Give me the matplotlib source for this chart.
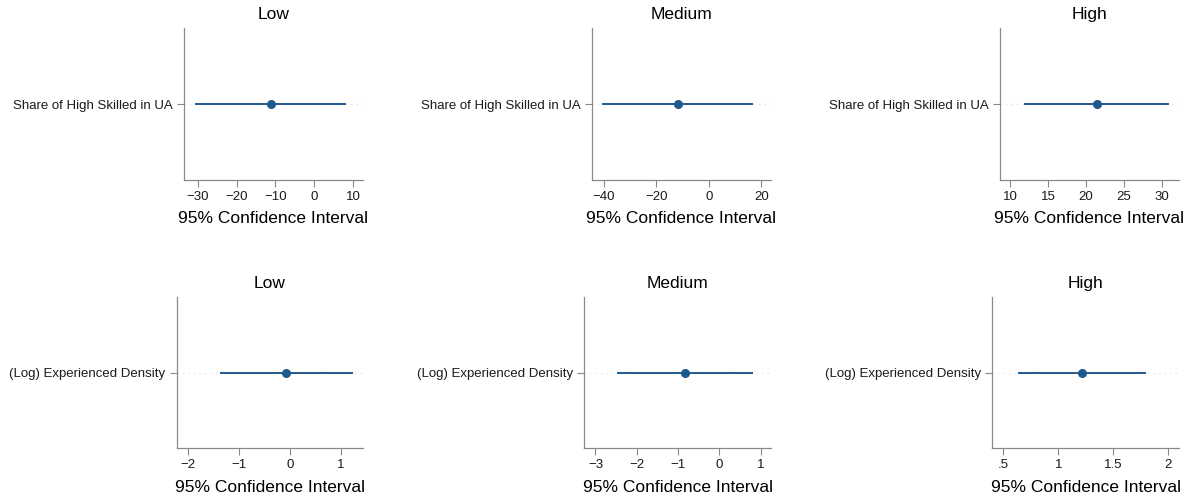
import matplotlib
matplotlib.use("Agg")
import matplotlib.pyplot as plt

plt.rcParams['font.family'] = ['Liberation Sans', 'DejaVu Sans']

# ---- data ----
titles = ["Low", "Medium", "High"]
variables = ["Share of High Skilled in UA", "(Log) Experienced Density"]

# row 0: Share of High Skilled in UA
share_est = [-11.2, -11.9, 21.45]
share_lo = [-30.6, -40.5, 11.9]
share_hi = [8.1, 16.7, 31.0]
# row 1: (Log) Experienced Density
dens_est = [-0.08, -0.83, 1.218]
dens_lo = [-1.37, -2.48, 0.636]
dens_hi = [1.23, 0.82, 1.796]

share_ticks = [[-30, -20, -10, 0, 10], [-40, -20, 0, 20], [10, 15, 20, 25, 30]]
share_ticklabels = [["\u221230", "\u221220", "\u221210", "0", "10"],
                    ["\u221240", "\u221220", "0", "20"],
                    ["10", "15", "20", "25", "30"]]
dens_ticks = [[-2, -1, 0, 1], [-3, -2, -1, 0, 1], [0.5, 1, 1.5, 2]]
dens_ticklabels = [["\u22122", "\u22121", "0", "1"],
                   ["\u22123", "\u22122", "\u22121", "0", "1"],
                   [".5", "1", "1.5", "2"]]

share_xlim = [(-33.5, 12.5), (-44.6, 23.7), (8.68, 32.3)]
dens_xlim = [(-2.215, 1.44), (-3.27, 1.25), (0.397, 2.1)]

# ---- layout (pixels) ----
W, H = 1188, 499
fig = plt.figure(figsize=(W / 100, H / 100), dpi=100)

rows = [
    dict(top=28, bottom=180, xs=[(184, 363), (591.7, 771), (1000, 1179)],
         est=share_est, lo=share_lo, hi=share_hi, ticks=share_ticks,
         labels=share_ticklabels, xlim=share_xlim, var=variables[0]),
    dict(top=296.7, bottom=448.3, xs=[(176.7, 363.3), (584.3, 771), (992, 1179.3)],
         est=dens_est, lo=dens_lo, hi=dens_hi, ticks=dens_ticks,
         labels=dens_ticklabels, xlim=dens_xlim, var=variables[1]),
]

color = "#1f5a8c"
spine_col = "#8a8a8a"

for r in rows:
    for j in range(3):
        x0, x1 = r["xs"][j]
        ax = fig.add_axes([x0 / W, 1 - r["bottom"] / H, (x1 - x0) / W,
                           (r["bottom"] - r["top"]) / H])
        ax.set_xlim(*r["xlim"][j])
        ax.set_ylim(0.5, 1.5)
        ax.axhline(1, color="#d9d9d9", lw=0.8, ls=(0, (1, 4)), zorder=0)
        ax.hlines(1, r["lo"][j], r["hi"][j], color=color, lw=1.4, zorder=2)
        ax.plot([r["est"][j]], [1], "o", color=color, ms=5.5, zorder=3)
        ax.set_yticks([1])
        ax.set_yticklabels([r["var"]], fontsize=9.5)
        ax.set_xticks(r["ticks"][j])
        ax.set_xticklabels(r["labels"][j], fontsize=9.5)
        for s in ["top", "right"]:
            ax.spines[s].set_visible(False)
        for s in ["left", "bottom"]:
            ax.spines[s].set_color(spine_col)
            ax.spines[s].set_linewidth(0.9)
        ax.tick_params(axis="both", color=spine_col, length=5, width=0.8,
                       labelcolor="#1a1a1a", pad=3)
        ax.set_title(titles[j], fontsize=12.5, pad=6.5)
        ax.set_xlabel("95% Confidence Interval", fontsize=12.5, labelpad=6)

fig.savefig("out.png", dpi=100, facecolor="white")
